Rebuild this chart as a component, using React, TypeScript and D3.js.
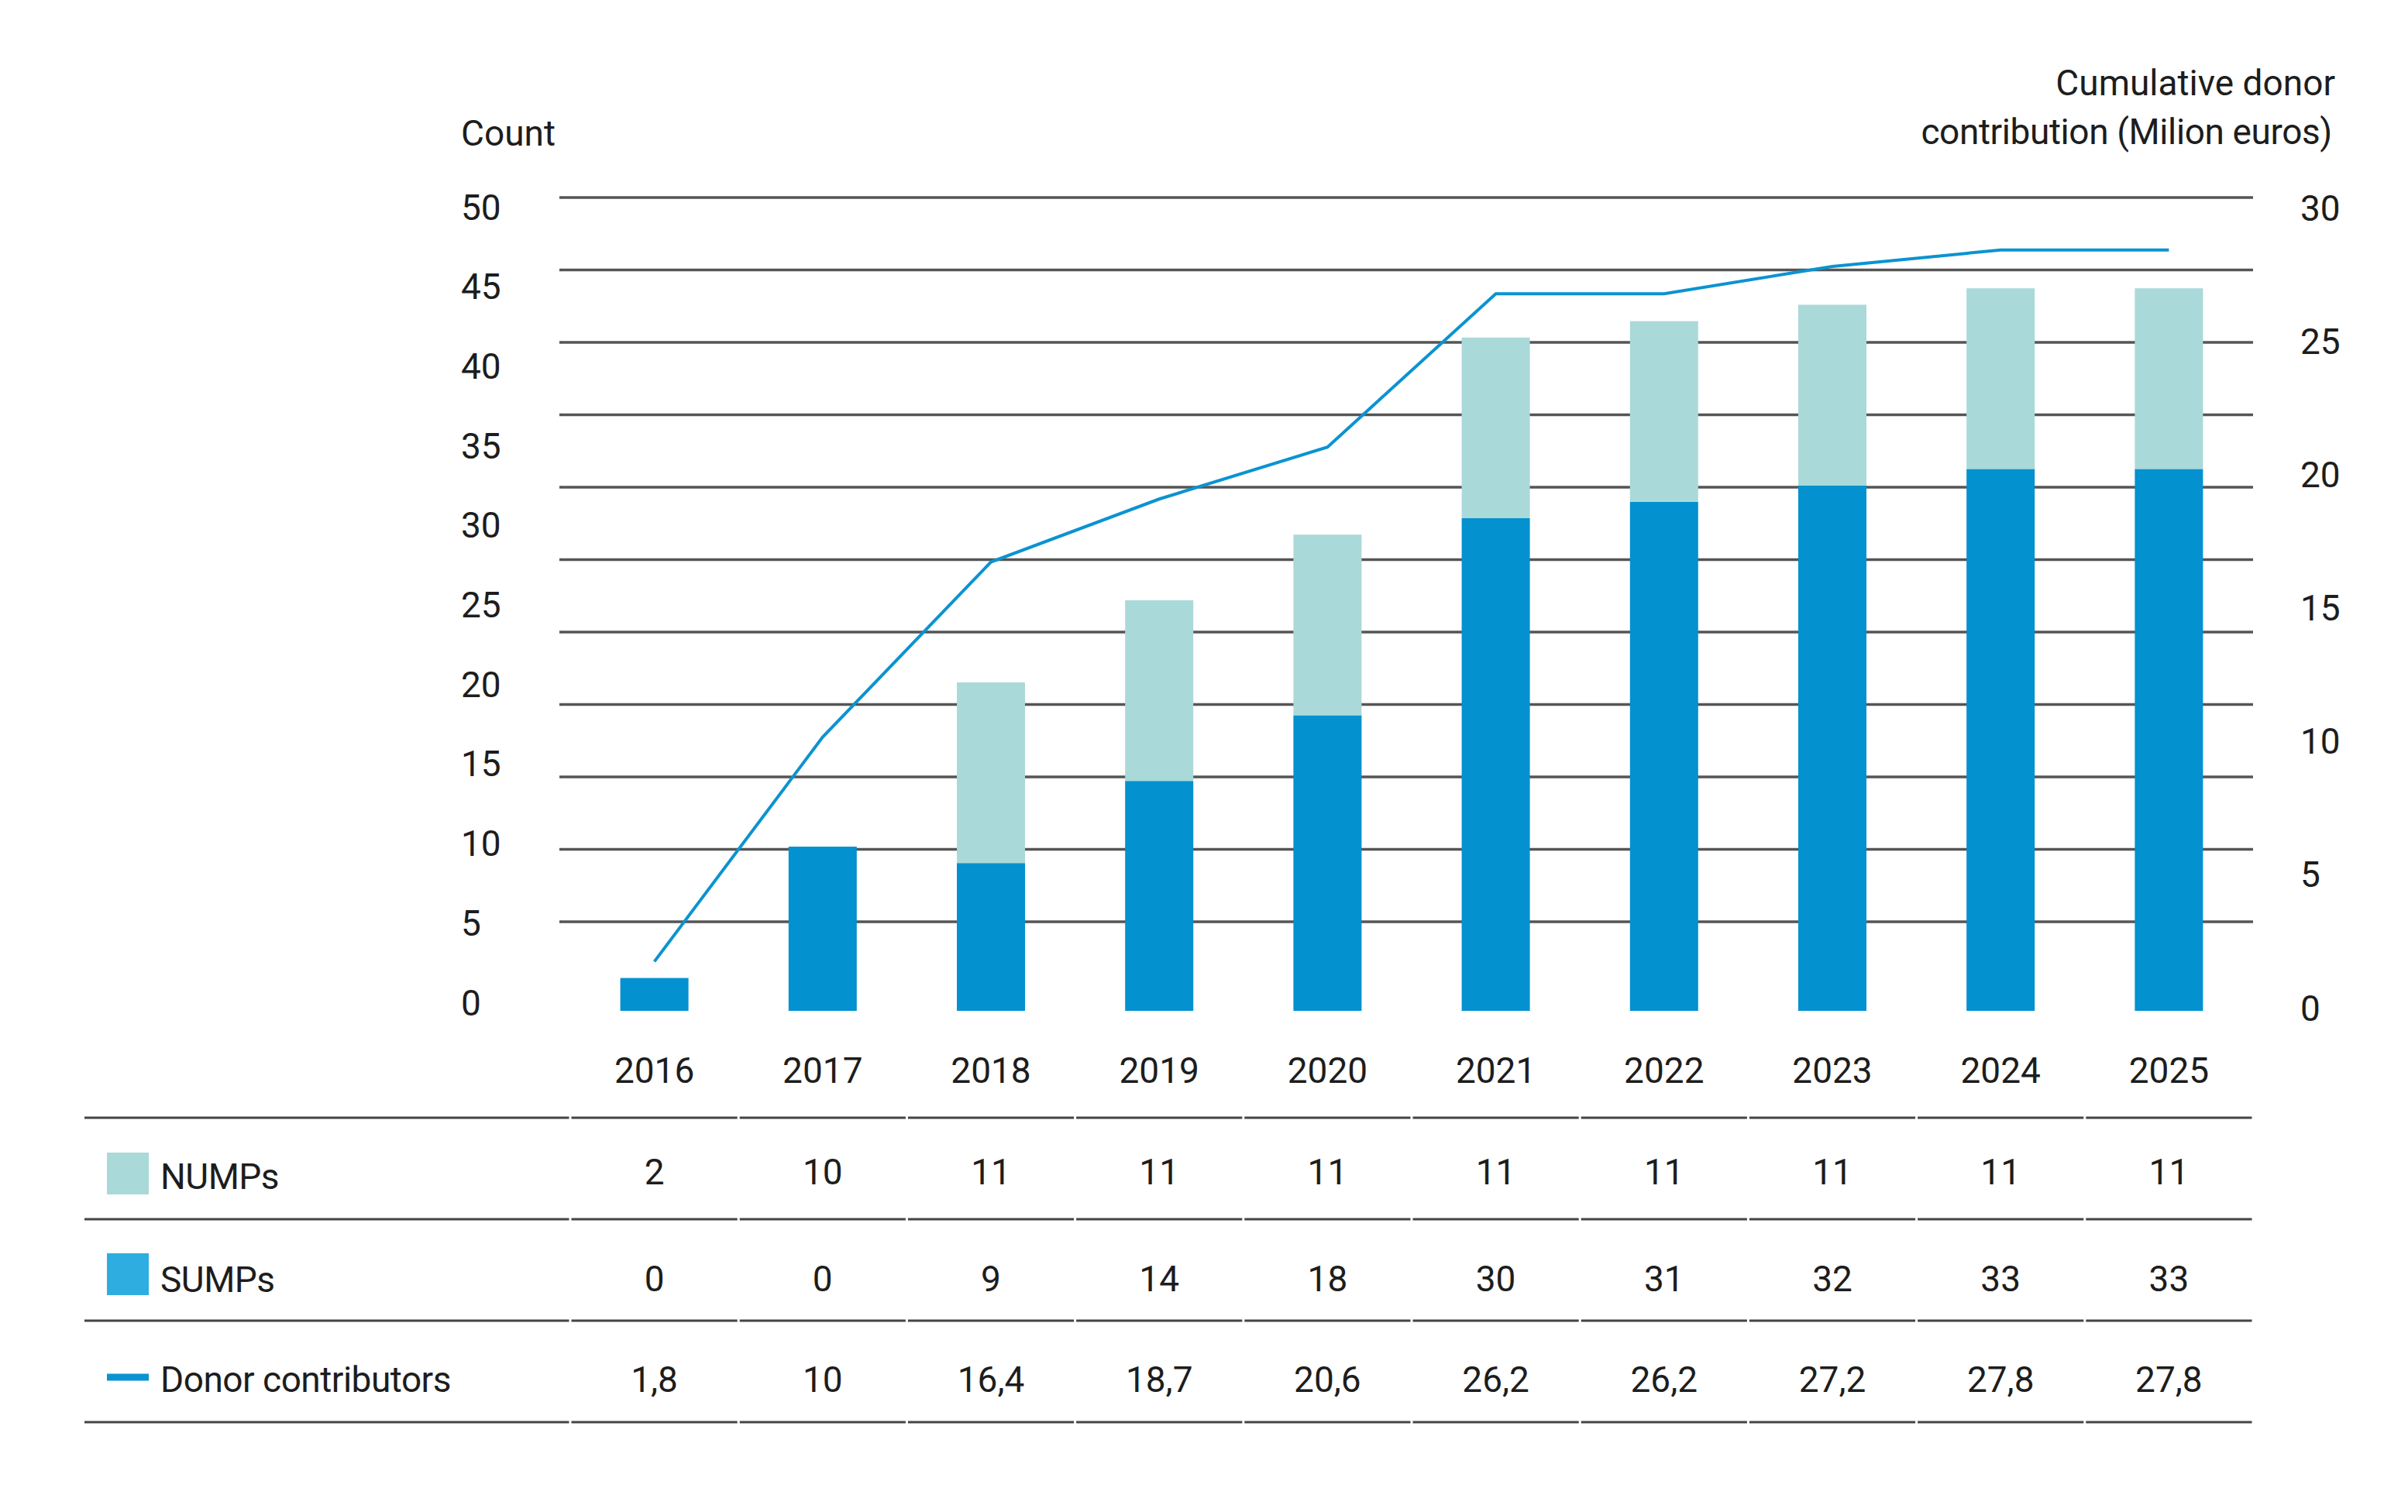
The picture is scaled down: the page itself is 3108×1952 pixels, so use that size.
import React from "react";
import * as d3 from "d3";

// Years shown along the x axis and in the table columns
const years = ["2016", "2017", "2018", "2019", "2020", "2021", "2022", "2023", "2024", "2025"];
// Count of NUMPs per year
const numps = [2, 10, 11, 11, 11, 11, 11, 11, 11, 11];
// Count of SUMPs per year
const sumps = [0, 0, 9, 14, 18, 30, 31, 32, 33, 33];
// Cumulative donor contribution, million euros
const donor = [1.8, 10, 16.4, 18.7, 20.6, 26.2, 26.2, 27.2, 27.8, 27.8];
// Axis tick values
const countTicks = [0, 5, 10, 15, 20, 25, 30, 35, 40, 45, 50];
const euroTicks = [0, 5, 10, 15, 20, 25, 30];

const W = 3108;
const H = 1952;
const FONT = "Roboto, 'Noto Sans', sans-serif";
const WEIGHT = 400;
const TEXT = "#1d1d1d";
const DEEP_BLUE = "#0391cf";
const TEAL = "#aad9d9";
const SUMP_SWATCH = "#2eaee0";
const LINE_BLUE = "#0b93d1";
const GRID = "#555555";

const fmtComma = (v: number) => String(v).replace(".", ",");

export default function App() {
  const plotLeft = 722;
  const plotRight = 2908;
  const tableLeft = 109;

  // Columns shared by bars, year labels and table cells
  const x = d3.scaleBand<string>().domain(years).range([736, plotRight]).padding(0);
  const cx = (y: string) => (x(y) as number) + x.bandwidth() / 2;
  const barW = 88;

  // Value scales for the bars (count) and the line (million euros)
  const yCount = d3.scaleLinear().domain([0, 50]).range([1305, 245]);
  const yEuro = d3.scaleLinear().domain([0, 30]).range([1305, 245]);

  // Gridline ladder and tick-label ladders
  const yGrid = d3.scaleLinear().domain([0, 50]).range([1190, 255]);
  const yCountLabel = d3.scaleLinear().domain([0, 50]).range([1294, 267]);
  const yEuroLabel = d3.scaleLinear().domain([0, 30]).range([1301, 268]);

  const table = years.map((yr, i) => ({ year: yr, SUMPs: sumps[i], NUMPs: numps[i] }));
  const stacked = d3.stack<any>().keys(["SUMPs", "NUMPs"])(table);

  // Segments: the base segment of each bar is drawn in deep blue, the upper one in teal
  const segments: { key: string; year: string; y0: number; y1: number; base: boolean }[] = [];
  stacked.forEach((layer) => {
    layer.forEach((d, i) => {
      const y0 = d[0];
      const y1 = d[1];
      if (y1 - y0 <= 0) return;
      segments.push({ key: layer.key, year: years[i], y0, y1, base: y0 === 0 });
    });
  });

  const line = d3
    .line<number>()
    .x((_, i) => cx(years[i]))
    .y((v) => yEuro(v));

  // Table rows
  const tableTop = 1443;
  const rowH = 131;
  const rows = [
    { label: "NUMPs", values: numps.map(String), swatch: "rect", color: TEAL, labelY: 1518, valueY: 1512, swY: 1515 },
    { label: "SUMPs", values: sumps.map(String), swatch: "rect", color: SUMP_SWATCH, labelY: 1651, valueY: 1650, swY: 1645 },
    { label: "Donor contributors", values: donor.map(fmtComma), swatch: "line", color: LINE_BLUE, labelY: 1780, valueY: 1780, swY: 1778 },
  ];

  // Horizontal rule split at column boundaries
  const cellEdges = [tableLeft, ...years.map((y) => x(y) as number), plotRight];
  const rule = (yPos: number, key: string) => (
    <g key={key}>
      {cellEdges.slice(0, -1).map((x0, i) => (
        <line
          key={i}
          x1={x0 + (i === 0 ? 0 : 1.5)}
          x2={cellEdges[i + 1] - 1.5}
          y1={yPos}
          y2={yPos}
          stroke="#444"
          strokeWidth={3.2}
        />
      ))}
    </g>
  );

  return (
    <svg
      width={W}
      height={H}
      viewBox={`0 0 ${W} ${H}`}
      style={{ position: "absolute", left: 0, top: 0, background: "#fff" }}
      fontFamily={FONT}
      fontWeight={WEIGHT}
    >
      <rect width={W} height={H} fill="#fff" />

      {/* gridlines */}
      {countTicks.map((t) => (
        <line
          key={`g${t}`}
          x1={plotLeft}
          x2={plotRight}
          y1={yGrid(t)}
          y2={yGrid(t)}
          stroke={GRID}
          strokeWidth={3.5}
        />
      ))}

      {/* axis titles */}
      <text x={595} y={188} fontSize={46} fill={TEXT}>
        Count
      </text>
      <text x={3014} y={123} fontSize={46} fill={TEXT} textAnchor="end">
        Cumulative donor
      </text>
      <text x={3010} y={186} fontSize={46} fill={TEXT} textAnchor="end" letterSpacing={-0.4}>
        contribution (Milion euros)
      </text>

      {/* left tick labels */}
      {countTicks.map((t) => (
        <text key={`l${t}`} x={595} y={yCountLabel(t)} dy="0.36em" fontSize={46} fill={TEXT}>
          {t}
        </text>
      ))}

      {/* right tick labels */}
      {euroTicks.map((t) => (
        <text key={`r${t}`} x={2969} y={yEuroLabel(t)} dy="0.36em" fontSize={46} fill={TEXT}>
          {t}
        </text>
      ))}

      {/* stacked bars */}
      {segments.map((s) => (
        <rect
          key={`${s.key}-${s.year}`}
          x={cx(s.year) - barW / 2}
          width={barW}
          y={yCount(s.y1)}
          height={yCount(s.y0) - yCount(s.y1)}
          fill={s.base ? DEEP_BLUE : TEAL}
        />
      ))}

      {/* donor contribution line */}
      <path d={line(donor) || ""} fill="none" stroke={LINE_BLUE} strokeWidth={4} strokeLinejoin="miter" />

      {/* year labels */}
      {years.map((yr) => (
        <text key={`y${yr}`} x={cx(yr)} y={1381} dy="0.36em" fontSize={46} fill={TEXT} textAnchor="middle">
          {yr}
        </text>
      ))}

      {/* table */}
      {[0, 1, 2, 3].map((i) => rule(tableTop + rowH * i, `rule${i}`))}
      {rows.map((r) => (
        <g key={r.label}>
          {r.swatch === "rect" ? (
            <rect x={138} y={r.swY - 27} width={54} height={54} fill={r.color} />
          ) : (
            <rect x={138} y={r.swY - 4.5} width={54} height={9} fill={r.color} />
          )}
          <text x={207} y={r.labelY} dy="0.36em" fontSize={46} fill={TEXT} letterSpacing={-0.5}>
            {r.label}
          </text>
          {r.values.map((v, j) => (
            <text
              key={j}
              x={cx(years[j])}
              y={r.valueY}
              dy="0.36em"
              fontSize={46}
              fill={TEXT}
              textAnchor="middle"
            >
              {v}
            </text>
          ))}
        </g>
      ))}
    </svg>
  );
}
